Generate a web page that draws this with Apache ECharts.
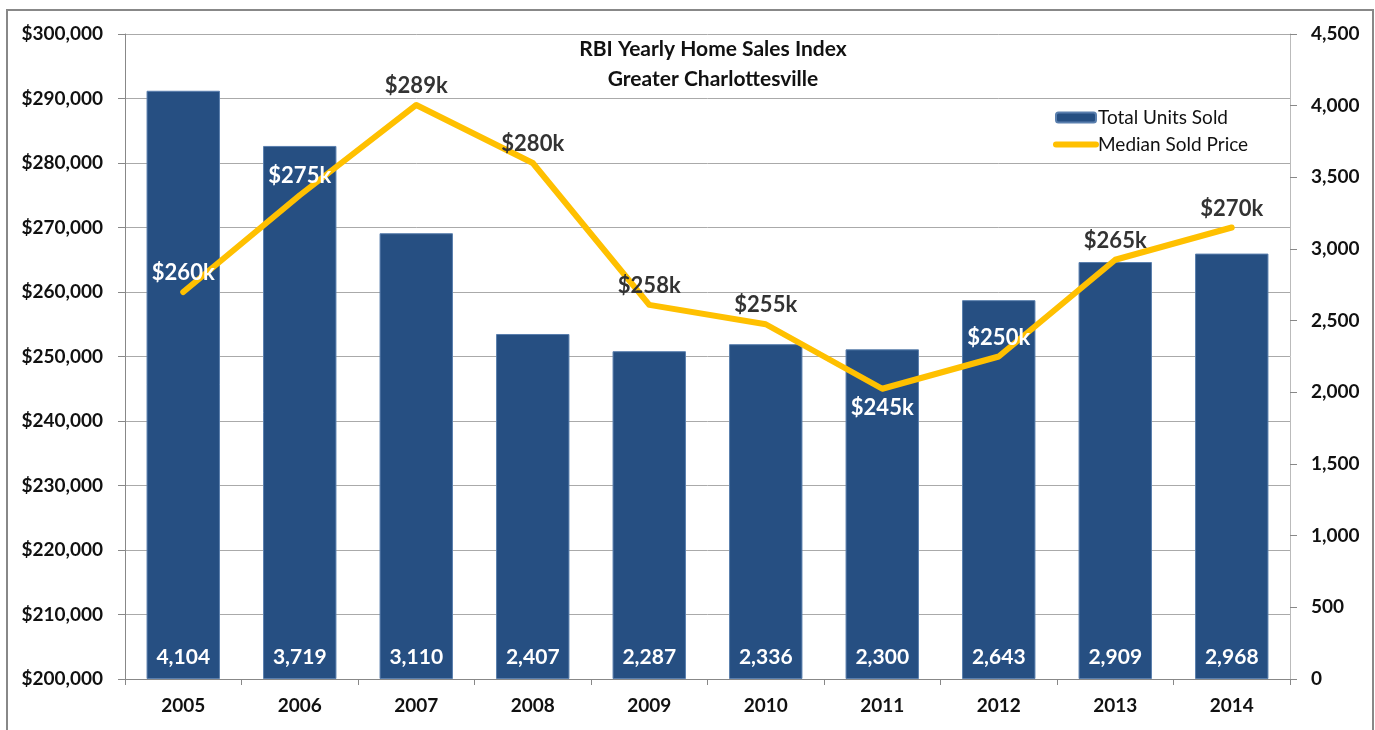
<!DOCTYPE html>
<html>
<head>
<meta charset="utf-8">
<script src="https://cdn.jsdelivr.net/npm/echarts@6/dist/echarts.min.js"></script>
<style>
  html, body { margin: 0; padding: 0; background: #fff; }
  #chart { width: 1375px; height: 730px; }
</style>
</head>
<body>
<div id="chart"></div>
<script>
var years = ['2005', '2006', '2007', '2008', '2009', '2010', '2011', '2012', '2013', '2014'];
var unitsSold = [4104, 3719, 3110, 2407, 2287, 2336, 2300, 2643, 2909, 2968];
var medianPrice = [260000, 275000, 289000, 280000, 258000, 255000, 245000, 250000, 265000, 270000];
var priceLabels = ['$260k', '$275k', '$289k', '$280k', '$258k', '$255k', '$245k', '$250k', '$265k', '$270k'];

var FONT = 'Lato';
var chart = echarts.init(document.getElementById('chart'));

// label goes under the point at a dip, above otherwise; white when it sits over a bar
var priceData = medianPrice.map(function (v, i) {
    var dip = i > 0 && i < medianPrice.length - 1 && v < medianPrice[i - 1] && v < medianPrice[i + 1];
    var barTop = 200000 + unitsSold[i] / 4500 * 100000;
    var labelMid = dip ? v - 4000 : v + 4000;
    return {
        value: v,
        label: {
            position: dip ? 'bottom' : 'top',
            color: labelMid < barTop ? '#ffffff' : '#333333'
        }
    };
});

var option = {
    animation: false,
    textStyle: { fontFamily: FONT },
    title: {
        text: 'RBI Yearly Home Sales Index\nGreater Charlottesville',
        left: 708,
        top: 29,
        textAlign: 'center',
        textStyle: { fontFamily: FONT, fontSize: 21, fontWeight: 'bold', color: '#111', lineHeight: 30 }
    },
    legend: {
        orient: 'vertical',
        left: 1053,
        top: 108,
        padding: 0,
        itemWidth: 40,
        itemHeight: 10,
        itemGap: 8,
        textStyle: { fontFamily: FONT, fontSize: 19, color: '#111', padding: [0, 0, 0, -3] },
        data: [
            { name: 'Total Units Sold' },
            { name: 'Median Sold Price', itemStyle: { opacity: 0 }, lineStyle: { width: 6, cap: 'round' } }
        ]
    },
    graphic: [{
        type: 'rect',
        shape: { x: 7, y: 10, width: 1366, height: 740 },
        style: { fill: 'none', stroke: '#888', lineWidth: 2 },
        silent: true
    }],
    grid: { left: 125, right: 85, top: 34, bottom: 51 },
    xAxis: {
        type: 'category',
        data: years,
        axisLine: { lineStyle: { color: '#888' } },
        axisTick: { show: true, length: 6, lineStyle: { color: '#888' } },
        axisLabel: { fontFamily: FONT, fontSize: 19, fontWeight: 'bold', color: '#111', margin: 17 }
    },
    yAxis: [{
        type: 'value',
        min: 200000,
        max: 300000,
        interval: 10000,
        axisLine: { show: true, lineStyle: { color: '#888' } },
        axisTick: { show: true, length: 7, lineStyle: { color: '#888' } },
        splitLine: { lineStyle: { color: '#aaa' } },
        axisLabel: {
            fontFamily: FONT, fontSize: 19, fontWeight: 'bold', color: '#111', margin: 22,
            formatter: function (v) { return '$' + v.toLocaleString('en-US'); }
        }
    }, {
        type: 'value',
        min: 0,
        max: 4500,
        interval: 500,
        axisLine: { show: true, lineStyle: { color: '#bbb' } },
        axisTick: { show: true, length: 7, lineStyle: { color: '#888' } },
        splitLine: { show: false },
        axisLabel: {
            fontFamily: FONT, fontSize: 19, fontWeight: 'bold', color: '#111', margin: 21,
            formatter: function (v) { return v.toLocaleString('en-US'); }
        }
    }],
    series: [{
        name: 'Total Units Sold',
        type: 'bar',
        yAxisIndex: 1,
        barWidth: '63%',
        data: unitsSold,
        itemStyle: { color: '#264F82', borderColor: '#5a7fae', borderWidth: 1 },
        label: {
            show: true,
            position: 'insideBottom',
            distance: 11,
            color: '#fff',
            fontFamily: FONT,
            fontSize: 21,
            fontWeight: 'bold',
            formatter: function (p) { return p.value.toLocaleString('en-US'); }
        }
    }, {
        name: 'Median Sold Price',
        type: 'line',
        yAxisIndex: 0,
        data: priceData,
        symbol: 'circle',
        symbolSize: 0,
        showSymbol: true,
        lineStyle: { color: '#FFC000', width: 6, cap: 'round', join: 'round' },
        itemStyle: { color: '#FFC000' },
        label: {
            show: true,
            distance: 8,
            fontFamily: FONT,
            fontSize: 22,
            fontWeight: 'bold',
            formatter: function (p) { return priceLabels[p.dataIndex]; }
        }
    }]
};

chart.setOption(option);
</script>
</body>
</html>
